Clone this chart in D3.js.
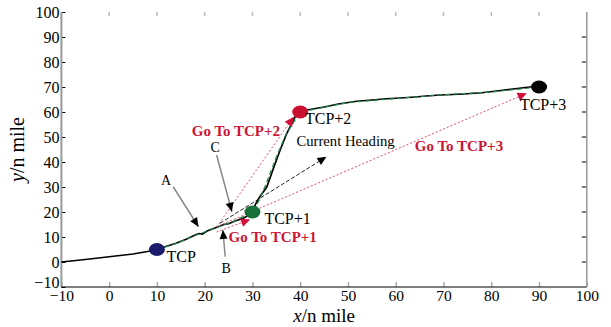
<!DOCTYPE html>
<html>
<head>
<meta charset="utf-8">
<script src="https://cdn.jsdelivr.net/npm/d3@7"></script>
<style>
  body { margin: 0; background: #fff; }
  svg text { font-family: "Liberation Serif", "Times New Roman", serif; }
</style>
</head>
<body>
<div id="chart"></div>
<script>
// ticks
const xTicks = [-10, 0, 10, 20, 30, 40, 50, 60, 70, 80, 90, 100];
const yTicks = [-10, 0, 10, 20, 30, 40, 50, 60, 70, 80, 90, 100];

// flown track (black)
const track = [
    [-10, 0], [-5, 1], [0, 2.1], [5, 3.2], [8, 4.2], [10, 5], [12, 6.3], [14, 7.5],
    [16, 9], [18, 10.8], [18.8, 11.4], [19.5, 11.2], [20.5, 12.4], [22, 13.5], [24, 15],
    [25, 15.3], [26.5, 16.5], [28, 17.4], [29, 18.5], [30, 20], [30.6, 23], [31.5, 26],
    [33, 30], [34.4, 37.5], [35.8, 44.8], [37.2, 51.5], [38.9, 58], [40, 60.4],
    [42, 61], [45, 62], [48, 63.2], [51.8, 64.3], [55, 64.8], [58, 65.3], [61, 65.6],
    [64, 66], [67, 66.5], [69.3, 66.8], [72, 67], [75, 67.3], [78, 67.7], [82, 68.6],
    [85, 69.3], [88, 70], [90, 70]
];

// planned route (green)
const route = [
    [10, 5], [14, 7.4], [18, 10.6], [22, 13.4], [26, 16.2], [30, 20], [31.5, 25],
    [33, 32], [35, 42], [37, 51], [40, 60], [50, 63.8], [60, 65.4], [70, 66.9],
    [80, 68], [90, 70]
];

// waypoints
const waypointNames = ['TCP', 'TCP+1', 'TCP+2', 'TCP+3'];
const waypointX = [10, 30, 40, 90];
const waypointY = [5, 20, 60, 70];
const waypointColors = ['#1b1b6b', '#17703a', '#cc1030', '#000000'];
const waypointLabelX = [12, 32.5, 41, 86];
const waypointLabelY = [0, 15.2, 55.2, 60.8];

// "Go To" guidance arrows (red)
const goToNames = ['Go To TCP+1', 'Go To TCP+2', 'Go To TCP+3'];
const goToFrom = [[22.5, 12], [22.5, 14], [23, 14.5]];
const goToTo = [[29.5, 17], [38.6, 58], [87.4, 67.5]];
const goToLabelX = [25, 17.3, 64];
const goToLabelY = [8.2, 50.6, 44.6];

// current heading (black dashed)
const headingFrom = [23.2, 15.5];
const headingTo = [45.5, 42.1];
const headingLabel = 'Current Heading';
const headingLabelXY = [39.2, 46.6];

// A/B/C pointers
const pointerNames = ['A', 'B', 'C'];
const pointerFrom = [[13.4, 30.1], [24.3, 2.1], [22.5, 42.8]];
const pointerTo = [[18.7, 14.1], [23.8, 12.8], [25.7, 20.1]];
const pointerLabelXY = [[11.9, 30.8], [24.5, -4.4], [22.2, 44]];

const width = 611;
const height = 327;
const margin = { top: 12, right: 24.2, bottom: 40, left: 61.4 };

const svg = d3.select('#chart').append('svg')
    .attr('width', width)
    .attr('height', height);

const x = d3.scaleLinear().domain([-10, 100]).range([margin.left, width - margin.right]);
const y = d3.scaleLinear().domain([-10, 100]).range([height - margin.bottom, margin.top]);

const fmt = (d) => (d < 0 ? '\u2212' + Math.abs(d) : d);

// axes, MATLAB style with inner ticks
const gx = svg.append('g')
    .attr('transform', `translate(0,${y(-10)})`)
    .call(d3.axisBottom(x).tickValues(xTicks).tickSizeInner(-5).tickSizeOuter(0).tickPadding(3)
        .tickFormat(fmt));
gx.select('.domain').remove();
gx.selectAll('.tick line').attr('stroke', '#aaa').attr('stroke-width', 1.5);
gx.selectAll('.tick text').attr('font-size', 15.5).attr('fill', '#000');

const gy = svg.append('g')
    .attr('transform', `translate(${x(-10)},0)`)
    .call(d3.axisLeft(y).tickValues(yTicks).tickSizeInner(-4).tickSizeOuter(0).tickPadding(2)
        .tickFormat(fmt));
gy.select('.domain').remove();
gy.selectAll('.tick line').attr('stroke', '#000').attr('stroke-width', 1);
gy.selectAll('.tick text').attr('font-size', 16).attr('fill', '#000');
gy.selectAll('.tick').filter((d) => d === -10).select('text').attr('dy', '0em');

// top and right ticks
svg.append('g').selectAll('line').data(xTicks.slice(1, -1)).join('line')
    .attr('x1', (d) => x(d)).attr('x2', (d) => x(d))
    .attr('y1', y(100)).attr('y2', y(100) + 4)
    .attr('stroke', '#bbb').attr('stroke-width', 1.5);
svg.append('g').selectAll('line').data(yTicks.slice(1, -1)).join('line')
    .attr('x1', x(100)).attr('x2', x(100) - 5)
    .attr('y1', (d) => y(d)).attr('y2', (d) => y(d))
    .attr('stroke', '#000').attr('stroke-width', 1);

// frame lines
svg.append('line').attr('x1', x(-10)).attr('x2', x(-10)).attr('y1', y(100)).attr('y2', y(-10))
    .attr('stroke', '#999').attr('stroke-width', 2);
svg.append('line').attr('x1', x(-10)).attr('x2', x(100)).attr('y1', y(-10)).attr('y2', y(-10))
    .attr('stroke', '#000').attr('stroke-width', 1.2);
svg.append('line').attr('x1', x(100)).attr('x2', x(100)).attr('y1', y(100)).attr('y2', y(-10))
    .attr('stroke', '#999').attr('stroke-width', 1.5);

// axis titles
svg.append('text')
    .attr('x', (x(-10) + x(100)) / 2)
    .attr('y', 322)
    .attr('text-anchor', 'middle')
    .attr('font-size', 19)
    .html('<tspan font-style="italic">x</tspan>/n mile');
svg.append('text')
    .attr('transform', `translate(24,${(y(-10) + y(100)) / 2}) rotate(-90)`)
    .attr('text-anchor', 'middle')
    .attr('font-size', 20)
    .html('<tspan font-style="italic">y</tspan>/n mile');

const line = d3.line().x((d) => x(d[0])).y((d) => y(d[1]));

// draw an arrow head as polygon at the end point
function arrowHead(g, from, to, len, half, fill) {
    const x1 = x(from[0]); const y1 = y(from[1]);
    const x2 = x(to[0]); const y2 = y(to[1]);
    const a = Math.atan2(y2 - y1, x2 - x1);
    const bx = x2 - len * Math.cos(a);
    const by = y2 - len * Math.sin(a);
    const pts = [
        [x2, y2],
        [bx + half * Math.sin(a), by - half * Math.cos(a)],
        [bx - half * Math.sin(a), by + half * Math.cos(a)],
    ];
    g.append('polygon').attr('points', pts.map((p) => p.join(',')).join(' ')).attr('fill', fill);
}

// track and route
svg.append('path').datum(track).attr('d', line)
    .attr('fill', 'none').attr('stroke', '#000').attr('stroke-width', 1.7);
svg.append('path').datum(route).attr('d', line)
    .attr('fill', 'none').attr('stroke', '#1e8a4a').attr('stroke-width', 1.2)
    .attr('stroke-dasharray', '5,3');

// go to arrows
const goG = svg.append('g');
goToFrom.forEach((f, i) => {
    goG.append('line')
        .attr('x1', x(f[0])).attr('y1', y(f[1]))
        .attr('x2', x(goToTo[i][0])).attr('y2', y(goToTo[i][1]))
        .attr('stroke', '#e0506e').attr('stroke-width', 1)
        .attr('stroke-dasharray', '2,2');
    arrowHead(goG, f, goToTo[i], 9, 4.5, '#d0103a');
    goG.append('text')
        .attr('x', x(goToLabelX[i])).attr('y', y(goToLabelY[i]))
        .attr('font-size', 15).attr('font-weight', 'bold').attr('fill', '#cc1535')
        .text(goToNames[i]);
});

// current heading
svg.append('line')
    .attr('x1', x(headingFrom[0])).attr('y1', y(headingFrom[1]))
    .attr('x2', x(headingTo[0])).attr('y2', y(headingTo[1]))
    .attr('stroke', '#222').attr('stroke-width', 1)
    .attr('stroke-dasharray', '4,2');
arrowHead(svg, headingFrom, headingTo, 9, 4, '#000');
svg.append('text')
    .attr('x', x(headingLabelXY[0])).attr('y', y(headingLabelXY[1]))
    .attr('font-size', 14.7).attr('fill', '#000')
    .text(headingLabel);

// A B C pointers
pointerFrom.forEach((f, i) => {
    svg.append('line')
        .attr('x1', x(f[0])).attr('y1', y(f[1]))
        .attr('x2', x(pointerTo[i][0])).attr('y2', y(pointerTo[i][1]))
        .attr('stroke', '#888').attr('stroke-width', 1.5);
    arrowHead(svg, f, pointerTo[i], 9, 4, '#000');
    svg.append('text')
        .attr('x', x(pointerLabelXY[i][0])).attr('y', y(pointerLabelXY[i][1]))
        .attr('text-anchor', 'middle')
        .attr('font-size', 14).attr('fill', '#000')
        .text(pointerNames[i]);
});

// waypoints
waypointNames.forEach((name, i) => {
    svg.append('ellipse')
        .attr('cx', x(waypointX[i])).attr('cy', y(waypointY[i]))
        .attr('rx', 8).attr('ry', 6.5)
        .attr('fill', waypointColors[i]);
    svg.append('text')
        .attr('x', x(waypointLabelX[i])).attr('y', y(waypointLabelY[i]))
        .attr('font-size', 16).attr('fill', '#000')
        .text(name);
});
</script>
</body>
</html>
